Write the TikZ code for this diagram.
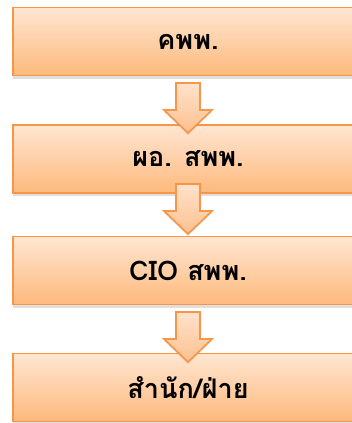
\documentclass[tikz,border=0pt]{standalone}
\usepackage{fontspec}
\newfontfamily\thaifont[Script=Thai]{Loma}
\usetikzlibrary{shadows}

\definecolor{boxline}{HTML}{F79646}
\definecolor{boxtop}{HTML}{FFE6D2}
\definecolor{boxbottom}{HTML}{FDB97C}
\definecolor{arrowtop}{HTML}{FFE2CC}
\definecolor{arrowbottom}{HTML}{FDC08E}

\tikzset{
  stepbox/.style={draw=boxline, line width=1.8pt, top color=boxtop, bottom color=boxbottom,
    minimum width=350pt, minimum height=68pt, inner sep=0pt,
    font=\thaifont\bfseries\fontsize{27}{32}\selectfont,
    drop shadow={shadow xshift=0pt, shadow yshift=-3pt, opacity=0.25}},
  flowarrow/.style={draw=boxline, line width=1.6pt, line join=miter, top color=arrowtop, bottom color=arrowbottom,
    drop shadow={shadow xshift=0pt, shadow yshift=-2pt, opacity=0.2}}
}

% block arrow, #1 = top of shaft
\newcommand\flowdown[1]{
  \draw[flowarrow] (176,#1) -- (200,#1) -- (200,{#1+27}) -- (212,{#1+27}) -- (188,{#1+50})
    -- (164,{#1+27}) -- (176,{#1+27}) -- cycle;
}

\begin{document}
\begin{tikzpicture}[x=1pt,y=-1pt]
\useasboundingbox (0,0) rectangle (352,423);

\node[stepbox] (kpp) at (188,41.5) {คพพ.};
\node[stepbox] (director) at (188,159) {ผอ. สพพ.};
\node[stepbox] (cio) at (188,270.5) {CIO สพพ.};
\node[stepbox] (unit) at (188,387.5) {สำนัก/ฝ่าย};

\flowdown{83}
\flowdown{184}
\flowdown{312}
\end{tikzpicture}
\end{document}
